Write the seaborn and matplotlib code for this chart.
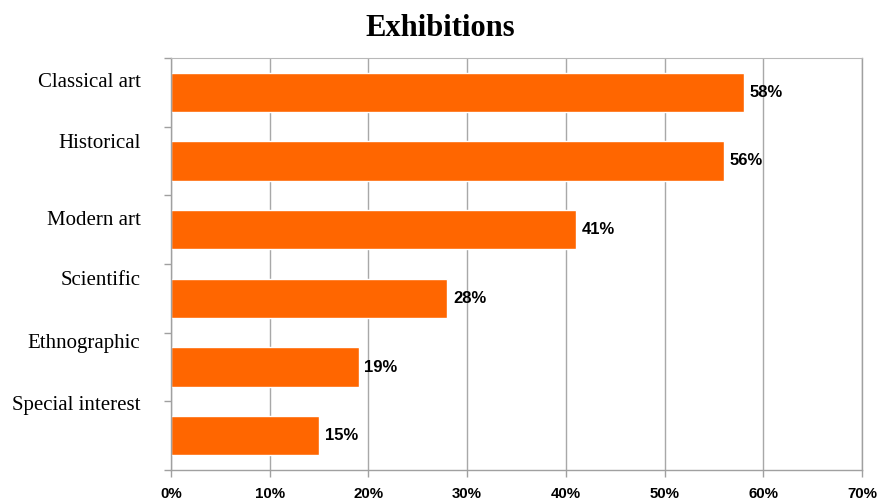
import matplotlib
matplotlib.use('Agg')
import matplotlib.pyplot as plt
import matplotlib.transforms as mtransforms
import numpy as np
import seaborn as sns

# data
categories = ['Classical art', 'Historical', 'Modern art', 'Scientific',
              'Ethnographic', 'Special interest']
shares = [58, 56, 41, 28, 19, 15]
x_ticks = [0, 10, 20, 30, 40, 50, 60, 70]

sns.set_style('white')
plt.rcParams['text.color'] = 'black'
plt.rcParams['xtick.labelcolor'] = 'black'
plt.rcParams['ytick.labelcolor'] = 'black'

fig = plt.figure(figsize=(8.8, 5.03), dpi=100)
ax = fig.add_axes([0.1943, 0.0656, 0.7852, 0.8191])

sns.barplot(x=shares, y=categories, orient='h', color='#FF6600',
            saturation=1, width=0.57, ax=ax)

ax.set_xlim(0, 70)
ax.set_xticks(x_ticks)
ax.set_xticklabels([f'{t}%' for t in x_ticks], fontfamily='Liberation Sans',
                   fontweight='bold', fontsize=10.8, color='black')
ax.xaxis.grid(True, color='#a8a8a8', linewidth=1)
ax.set_axisbelow(True)
ax.set_xlabel('')
ax.set_ylabel('')

# category boundary ticks on the left
ax.set_yticks(np.arange(-0.5, len(categories)), minor=True)
ax.tick_params(axis='y', which='major', length=0, pad=22)
ax.tick_params(axis='y', which='minor', length=5, width=1, color='#a0a0a0',
               direction='out', left=True)
ax.tick_params(axis='x', which='major', length=5, width=1, color='#a0a0a0',
               direction='out', bottom=True, pad=7)

# labels sit a bit above the bar centres, like the source
label_shift_px = [12, 20, 12, 20, 26, 33]
for lbl, dy in zip(ax.get_yticklabels(), label_shift_px):
    lbl.set_fontfamily('Liberation Serif')
    lbl.set_fontsize(15)
    lbl.set_color('black')
    lbl.set_transform(lbl.get_transform() +
                      mtransforms.ScaledTranslation(0, dy / 100, fig.dpi_scale_trans))

for side in ['left', 'bottom', 'right']:
    ax.spines[side].set_color('#a0a0a0')
    ax.spines[side].set_linewidth(1)
ax.spines['top'].set_color('#b8b8b8')

ax.bar_label(ax.containers[0], labels=[f'{v}%' for v in shares], padding=4,
             fontfamily='Liberation Sans', fontweight='bold', fontsize=12,
             color='black')

fig.text(0.5, 0.944, 'Exhibitions', ha='center', va='center',
         fontfamily='Liberation Serif', fontweight='bold', fontsize=22,
         color='black')

fig.savefig('out.png', dpi=100)
